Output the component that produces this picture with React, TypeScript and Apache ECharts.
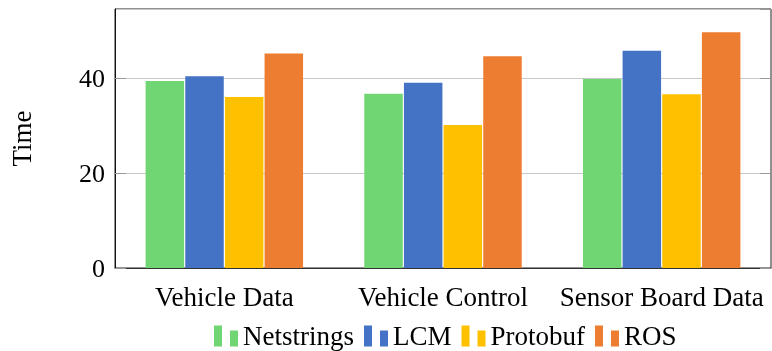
import React, { useEffect, useRef } from "react";
import * as echarts from "echarts";

const categories = ["Vehicle Data", "Vehicle Control", "Sensor Board Data"];
const netstrings = [39.5, 36.8, 39.9];
const lcm = [40.5, 39.1, 45.9];
const protobuf = [36.1, 30.2, 36.7];
const ros = [45.3, 44.7, 49.8];
const seriesNames = ["Netstrings", "LCM", "Protobuf", "ROS"];
const colors = ["#70D673", "#4472C4", "#FFC000", "#ED7D31"];

const FONT = "'Liberation Serif', 'Times New Roman', serif";

export default function App() {
  const ref = useRef<HTMLDivElement>(null);
  useEffect(() => {
    if (!ref.current) return;
    const chart = echarts.init(ref.current, undefined, { renderer: "svg" });
    const values = [netstrings, lcm, protobuf, ros];
    const icon = "path://M0,0H8V21H0ZM16,5H24V21H16Z";
    chart.setOption({
      animation: false,
      textStyle: { fontFamily: FONT },
      grid: {
        left: 113,
        right: 1,
        top: 9,
        bottom: 83,
        show: true,
        borderColor: "#222",
        borderWidth: 1,
      },
      legend: {
        data: seriesNames.map((n) => ({ name: n, icon })),
        left: 209,
        top: 317,
        itemWidth: 24,
        itemHeight: 21,
        itemGap: 10,
        textStyle: { fontFamily: FONT, fontSize: 27, color: "#000", lineHeight: 28 },
      },
      xAxis: {
        type: "category",
        data: categories,
        axisLine: { show: true, lineStyle: { color: "#333" } },
        axisTick: { show: false },
        axisLabel: {
          fontFamily: FONT,
          fontSize: 27,
          color: "#000",
          margin: 15,
          interval: 0,
        },
      },
      yAxis: [
        {
          type: "value",
          min: 0,
          max: 54.7,
          interval: 20,
          name: "Time",
          nameLocation: "middle",
          nameRotate: 90,
          nameGap: 80,
          nameTextStyle: { fontFamily: FONT, fontSize: 27, color: "#000" },
          axisLine: { show: true, lineStyle: { color: "#111" } },
          axisTick: {
            show: true,
            inside: true,
            length: 11,
            lineStyle: { color: "#999" },
          },
          axisLabel: {
            fontFamily: FONT,
            fontSize: 26,
            color: "#000",
            margin: 10,
            showMaxLabel: false,
          },
          splitLine: { show: true, lineStyle: { color: "#c8c8c8", width: 1 } },
        },
        {
          type: "value",
          min: 0,
          max: 54.7,
          interval: 20,
          position: "right",
          axisLine: { show: false },
          axisTick: {
            show: true,
            inside: true,
            length: 11,
            lineStyle: { color: "#999" },
          },
          axisLabel: { show: false },
          splitLine: { show: false },
        },
      ],
      series: seriesNames.map((name, i) => ({
        name,
        type: "bar",
        data: values[i],
        barWidth: 38.5,
        barGap: "3%",
        itemStyle: { color: colors[i] },
      })),
    });
    return () => chart.dispose();
  }, []);
  return (
    <div
      ref={ref}
      style={{ position: "fixed", left: 0, top: 0, width: 772, height: 351 }}
    />
  );
}
